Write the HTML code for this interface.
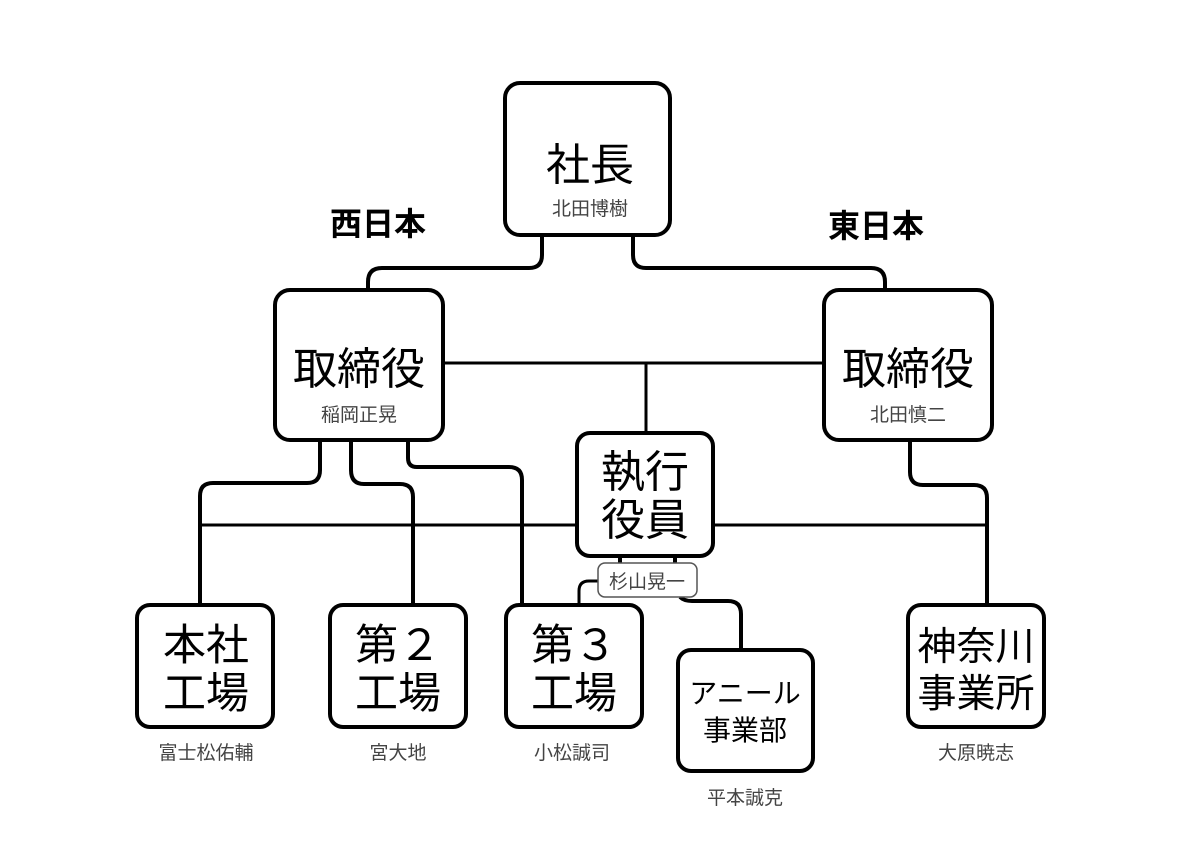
<!DOCTYPE html>
<html><head><meta charset="utf-8"><style>
html,body{margin:0;padding:0;background:#fff;}
svg{display:block;}
text{font-family:"Liberation Sans","Noto Sans CJK JP",sans-serif;}
</style></head><body>
<svg width="1191" height="841" viewBox="0 0 1191 841" xmlns="http://www.w3.org/2000/svg">
<g fill="none" stroke="#000" stroke-linejoin="round">
<line x1="443" y1="363" x2="824" y2="363" stroke-width="3"/>
<line x1="646" y1="363" x2="646" y2="433" stroke-width="3"/>
<line x1="200" y1="525" x2="987" y2="525" stroke-width="3"/>
<g stroke-width="4">
<path d="M542 235 V255 Q542 268 529 268 H382 Q368 268 368 282 V290"/>
<path d="M633 235 V255 Q633 268 646 268 H871 Q885 268 885 282 V290"/>
<path d="M320 440 V470 Q320 483 307 483 H213 Q200 483 200 496 V605"/>
<path d="M351 440 V470 Q351 484 364 484 H400 Q413 484 413 497 V605"/>
<path d="M408 440 V458 Q408 467 417 467 H509 Q522 467 522 480 V605"/>
<path d="M910 440 V472 Q910 485 923 485 H974 Q987 485 987 498 V605"/>
<line x1="620" y1="556" x2="620" y2="564"/>
<line x1="675" y1="556" x2="675" y2="564"/>
<path d="M598 581 H589 Q579 581 579 591 V605" stroke-width="3"/>
<path d="M680 597 Q684 601 692 601 H728 Q741 601 741 614 V650"/>
</g>
<g stroke-width="4" fill="#fff">
<rect x="505" y="83" width="165" height="152" rx="15"/>
<rect x="275" y="290" width="168" height="150" rx="15"/>
<rect x="824" y="290" width="168" height="150" rx="15"/>
<rect x="577" y="433" width="136" height="123" rx="13"/>
<rect x="137" y="605" width="136" height="122" rx="13"/>
<rect x="330" y="605" width="136" height="122" rx="13"/>
<rect x="506" y="605" width="136" height="122" rx="13"/>
<rect x="678" y="650" width="135" height="121" rx="13"/>
<rect x="908" y="605" width="136" height="122" rx="13"/>
</g>
<rect x="598" y="563" width="99" height="34" rx="7" fill="#fff" stroke="#555" stroke-width="1.5"/>
</g>
<g text-anchor="middle" fill="#000">
<text x="378" y="235" font-size="32" font-weight="bold">西日本</text>
<text x="876" y="237" font-size="32" font-weight="bold">東日本</text>
<text x="590" y="180" font-size="44">社長</text>
<text x="590" y="215" font-size="19" fill="#444">北田博樹</text>
<text x="359" y="384" font-size="44">取締役</text>
<text x="359" y="421" font-size="19" fill="#444">稲岡正晃</text>
<text x="908" y="384" font-size="44">取締役</text>
<text x="908" y="421" font-size="19" fill="#444">北田慎二</text>
<text x="645" y="487" font-size="44">執行</text>
<text x="645" y="535" font-size="44">役員</text>
<text x="647" y="588" font-size="19" fill="#444">杉山晃一</text>
<text x="206" y="660" font-size="43">本社</text>
<text x="206" y="708" font-size="43">工場</text>
<text x="398" y="660" font-size="43">第２</text>
<text x="398" y="708" font-size="43">工場</text>
<text x="574" y="660" font-size="43">第３</text>
<text x="574" y="708" font-size="43">工場</text>
<text x="745" y="703" font-size="28">アニール</text>
<text x="745" y="740" font-size="28">事業部</text>
<text x="976" y="660" font-size="39">神奈川</text>
<text x="976" y="707" font-size="39">事業所</text>
<text x="206" y="759" font-size="19" fill="#444">富士松佑輔</text>
<text x="398" y="759" font-size="19" fill="#444">宮大地</text>
<text x="572" y="759" font-size="19" fill="#444">小松誠司</text>
<text x="745" y="804" font-size="19" fill="#444">平本誠克</text>
<text x="976" y="759" font-size="19" fill="#444">大原暁志</text>
</g>
</svg>
</body></html>
